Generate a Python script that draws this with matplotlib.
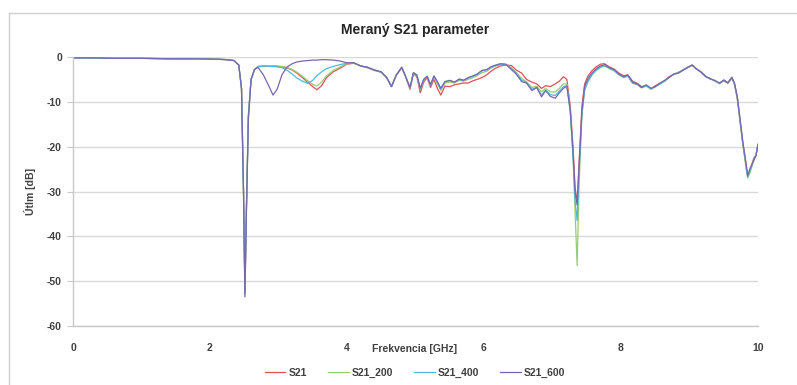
import matplotlib
matplotlib.use("Agg")
import matplotlib.pyplot as plt
from matplotlib.lines import Line2D

plt.rcParams['font.family'] = ['Liberation Sans', 'DejaVu Sans']
plt.rcParams['axes.unicode_minus'] = False

# frequency grid [GHz]
freq = [0.0, 0.3, 0.6, 1.0, 1.4, 1.8, 2.1, 2.25, 2.35, 2.42,
        2.46, 2.49, 2.51, 2.53, 2.56, 2.6, 2.65, 2.7, 2.78, 2.86,
        2.92, 2.98, 3.05, 3.12, 3.2, 3.27, 3.35, 3.43, 3.5, 3.56,
        3.63, 3.7, 3.8, 3.9, 4.0, 4.1, 4.2, 4.3, 4.4, 4.5,
        4.58, 4.65, 4.72, 4.8, 4.86, 4.92, 4.97, 5.02, 5.07, 5.12,
        5.17, 5.22, 5.27, 5.32, 5.37, 5.43, 5.5, 5.57, 5.64, 5.7,
        5.77, 5.84, 5.9, 5.97, 6.04, 6.1, 6.17, 6.24, 6.32, 6.4,
        6.47, 6.55, 6.62, 6.7, 6.77, 6.84, 6.9, 6.97, 7.04, 7.1,
        7.16, 7.21, 7.26, 7.3, 7.33, 7.36, 7.39, 7.43, 7.47, 7.52,
        7.58, 7.64, 7.7, 7.76, 7.83, 7.9, 7.97, 8.04, 8.1, 8.17,
        8.24, 8.3, 8.37, 8.44, 8.5, 8.57, 8.64, 8.7, 8.77, 8.84,
        8.9, 8.97, 9.04, 9.1, 9.17, 9.24, 9.3, 9.37, 9.44, 9.5,
        9.56, 9.62, 9.66, 9.7, 9.74, 9.78, 9.82, 9.85, 9.88, 9.91,
        9.94, 9.97, 10.0]

s21 = [-0.2, -0.2, -0.3, -0.3, -0.4, -0.4, -0.5, -0.6, -0.8, -1.8,
       -7, -30, -52.5, -35, -13, -5, -2.8, -2.1, -2.0, -2.1,
       -2.0, -2.1, -2.2, -2.4, -2.9, -3.6, -4.6, -5.7, -6.6, -7.3,
       -6.4, -4.6, -3.3, -2.5, -1.6, -1.4, -2.0, -2.4, -3.0, -3.4,
       -4.6, -6.6, -4.1, -2.4, -4.6, -7.2, -3.7, -4.4, -8.0, -5.6,
       -4.6, -6.8, -5.0, -7.0, -8.5, -6.5, -6.6, -6.2, -6.0, -5.8,
       -5.8, -5.3, -5.0, -4.6, -4.0, -3.2, -2.5, -2.0, -1.8, -1.9,
       -2.9, -3.6, -5.0, -5.6, -6.0, -7.0, -6.4, -6.6, -6.0, -5.4,
       -4.4, -5.0, -11, -20, -29, -32.5, -23, -11, -6, -4.2,
       -3.0, -2.2, -1.6, -1.5, -2.2, -2.7, -3.6, -4.2, -4.0, -5.4,
       -5.9, -6.6, -6.4, -7.1, -6.4, -5.9, -5.3, -4.4, -3.9, -3.4,
       -3.0, -2.3, -1.8, -2.7, -3.3, -4.3, -4.9, -5.2, -5.9, -5.1,
       -5.7, -4.5, -6.2, -9.5, -14.5, -19.5, -23.5, -26.5, -25.5, -24,
       -22.5, -22, -19.5]

s21_200 = [-0.2, -0.2, -0.3, -0.3, -0.4, -0.4, -0.5, -0.6, -0.8, -1.8,
           -7, -30, -52, -35, -13, -5, -2.8, -2.2, -2.0, -2.0,
           -2.0, -2.0, -2.1, -2.3, -2.8, -3.4, -4.3, -5.3, -6.1, -6.5,
           -5.6, -4.2, -3.0, -2.2, -1.5, -1.4, -2.0, -2.3, -2.9, -3.4,
           -4.6, -6.6, -4.0, -2.3, -4.5, -6.9, -3.6, -4.1, -7.3, -5.2,
           -4.4, -6.4, -4.5, -6.0, -7.5, -5.8, -5.6, -5.8, -5.2, -5.4,
           -5.0, -4.6, -4.2, -3.5, -3.2, -2.5, -2.0, -1.7, -1.7, -2.4,
           -3.4, -4.8, -5.5, -6.8, -6.5, -7.8, -7.0, -7.8, -7.8, -7.0,
           -6.0, -6.0, -12, -22, -34, -46.5, -28, -13, -7.5, -5.5,
           -4.0, -3.0, -2.4, -2.0, -2.6, -3.1, -4.0, -4.6, -4.3, -5.9,
           -6.2, -6.9, -6.5, -7.2, -6.7, -6.0, -5.4, -4.6, -3.9, -3.6,
           -3.0, -2.4, -1.9, -2.7, -3.4, -4.4, -4.9, -5.3, -6.0, -5.3,
           -5.9, -4.7, -6.2, -9.2, -14.5, -19.5, -24, -27, -26, -24.5,
           -23, -22, -19.5]

s21_400 = [-0.2, -0.2, -0.3, -0.3, -0.4, -0.4, -0.5, -0.6, -0.8, -1.8,
           -7, -31, -53, -35.5, -13.5, -5, -2.8, -2.2, -2.0, -2.1,
           -2.1, -2.2, -2.4, -2.9, -3.8, -4.7, -5.4, -5.9, -5.2, -4.2,
           -3.3, -2.6, -2.1, -1.7, -1.4, -1.3, -2.0, -2.3, -2.9, -3.4,
           -4.6, -6.6, -4.0, -2.3, -4.5, -6.8, -3.5, -4.0, -7.1, -5.0,
           -4.3, -6.2, -4.3, -5.6, -7.1, -5.5, -5.3, -5.6, -5.0, -5.2,
           -4.7, -4.3, -3.9, -3.1, -2.9, -2.3, -1.9, -1.6, -1.7, -2.6,
           -3.6, -5.2, -5.7, -7.2, -6.8, -8.5, -7.4, -8.4, -8.6, -7.6,
           -6.6, -6.4, -12, -22, -32, -36.5, -25, -12.5, -7.2, -5.3,
           -3.8, -2.9, -2.2, -1.9, -2.5, -3.0, -3.9, -4.5, -4.2, -5.8,
           -6.1, -6.8, -6.4, -7.1, -6.6, -6.0, -5.3, -4.6, -3.8, -3.5,
           -2.9, -2.3, -1.8, -2.6, -3.4, -4.4, -4.8, -5.3, -5.9, -5.2,
           -5.8, -4.6, -6.1, -9.1, -14.2, -19.2, -23.5, -26.8, -25.5, -24.2,
           -23, -22, -19.6]

s21_600 = [-0.2, -0.2, -0.3, -0.3, -0.4, -0.4, -0.5, -0.6, -0.8, -1.8,
           -7, -31, -53.5, -36, -14, -5, -2.8, -2.3, -4.0, -6.5,
           -8.5, -7.2, -4.0, -2.3, -1.5, -1.1, -0.9, -0.8, -0.7, -0.7,
           -0.6, -0.6, -0.7, -0.9, -1.3, -1.3, -2.0, -2.3, -2.9, -3.3,
           -4.6, -6.6, -4.0, -2.3, -4.5, -6.8, -3.5, -4.0, -7.0, -5.0,
           -4.3, -6.2, -4.2, -5.5, -7.0, -5.5, -5.2, -5.6, -4.9, -5.2,
           -4.6, -4.2, -3.8, -3.0, -2.8, -2.2, -1.8, -1.5, -1.6, -2.8,
           -3.8, -5.5, -5.8, -7.5, -6.8, -8.9, -7.5, -8.8, -9.2, -8.0,
           -7.0, -6.5, -12, -21, -30, -33, -24, -12, -6.5, -4.8,
           -3.5, -2.6, -2.0, -1.7, -2.4, -2.8, -3.8, -4.4, -4.0, -5.6,
           -6.0, -6.8, -6.2, -7.0, -6.6, -5.8, -5.2, -4.6, -3.8, -3.6,
           -3.0, -2.4, -1.8, -2.6, -3.4, -4.4, -4.8, -5.3, -5.8, -5.2,
           -5.8, -4.6, -6.0, -9.0, -14, -19, -23, -26.5, -25, -24,
           -23, -22, -19.5]

series = [("S21", s21, "#E0505A"),
          ("S21_200", s21_200, "#9CCB6E"),
          ("S21_400", s21_400, "#4FB8E0"),
          ("S21_600", s21_600, "#7A66AE")]

fig = plt.figure(figsize=(7.97, 3.85), dpi=100)
ax = fig.add_axes([0.0916, 0.153, 0.8594, 0.699])

for name, vals, col in series:
    ax.plot(freq, vals, color=col, linewidth=0.9, label=name)

ax.set_xlim(0, 10)
ax.set_ylim(-60, 0)
ax.set_xticks([0, 2, 4, 6, 8, 10])
ax.set_yticks([0, -10, -20, -30, -40, -50, -60])
ax.grid(axis="y", color="#D9D9D9", linewidth=1.0)
ax.set_axisbelow(True)
for s in ["top", "right"]:
    ax.spines[s].set_visible(False)
for s in ["left", "bottom"]:
    ax.spines[s].set_color("#C8C8C8")
    ax.spines[s].set_linewidth(1.0)
ax.tick_params(axis="y", length=4, color="#C8C8C8", pad=4,
               labelsize=7.5, labelcolor="#404040")
ax.tick_params(axis="x", length=0, pad=12,
               labelsize=7.5, labelcolor="#404040")
for lab in ax.get_xticklabels() + ax.get_yticklabels():
    lab.set_fontweight("bold")

fig.text(415 / 797, 1 - 30 / 385, "Meraný S21 parameter", ha="center", va="center",
         fontsize=10, fontweight="bold", color="#262626")
fig.text(415 / 797, 1 - 349 / 385, "Frekvencia [GHz]", ha="center", va="center",
         fontsize=7.5, fontweight="bold", color="#404040")
fig.text(30 / 797, 1 - 191 / 385, "Útlm [dB]", ha="center", va="center", rotation=90,
         fontsize=7.5, fontweight="bold", color="#404040")

leg = fig.legend(loc="center", bbox_to_anchor=(415 / 797, 1 - 373 / 385), ncol=4,
                 frameon=False, fontsize=7.5, handlelength=2.0, columnspacing=2.0,
                 handletextpad=0.3)
for t in leg.get_texts():
    t.set_fontweight("bold")
    t.set_color("#404040")

# thin frame of the chart area (left and top edges visible)
fig.add_artist(Line2D([9 / 797, 9 / 797], [0, 1 - 13 / 385], transform=fig.transFigure,
                      color="#D0D0D0", linewidth=1.0))
fig.add_artist(Line2D([9 / 797, 1], [1 - 13 / 385, 1 - 13 / 385], transform=fig.transFigure,
                      color="#D0D0D0", linewidth=1.0))

fig.savefig("out.png", dpi=100)
